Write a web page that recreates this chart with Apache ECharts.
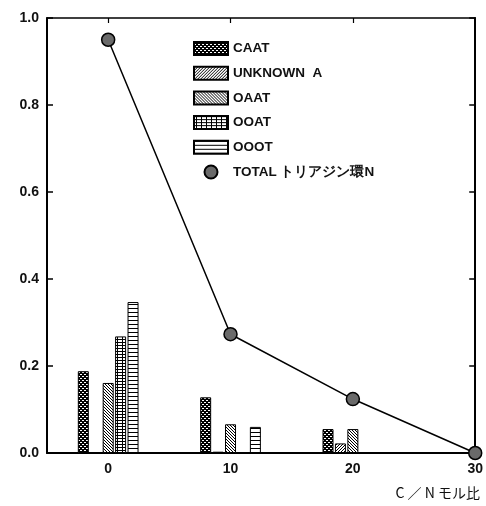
<!DOCTYPE html>
<html><head><meta charset="utf-8">
<script src="https://cdn.jsdelivr.net/npm/echarts@6/dist/echarts.min.js"></script>
<style>html,body{margin:0;padding:0;background:#fff}#c{width:486px;height:506px}</style>
</head><body><div id="c"></div>
<script>
// ---- data ----
const groups = [0, 10, 20];
const seriesNames = ['CAAT', 'UNKNOWN  A', 'OAAT', 'OOAT', 'OOOT'];
const caat = [0.188, 0.128, 0.055];
const unknownA = [null, 0.003, 0.022];
const oaat = [0.161, 0.066, 0.055];
const ooat = [0.268, null, null];
const ooot = [0.347, 0.060, null];
const totalName = 'TOTAL トリアジン環N';
const totalX = [0, 10, 20, 30];
const totalN = [0.95, 0.273, 0.124, 0.0];
const xTickValues = [0, 10, 20, 30];
const yTickValues = [0, 0.2, 0.4, 0.6, 0.8, 1.0];

// ---- patterns ----
function pat(w, h, isBlack) {
  const c = document.createElement('canvas');
  c.width = w; c.height = h;
  const g = c.getContext('2d');
  const img = g.createImageData(w, h);
  for (let y = 0; y < h; y++) for (let x = 0; x < w; x++) {
    const v = isBlack(x, y) ? 0 : 255;
    const i = (y * w + x) * 4;
    img.data[i] = img.data[i + 1] = img.data[i + 2] = v; img.data[i + 3] = 255;
  }
  g.putImageData(img, 0, 0);
  return { image: c, repeat: 'repeat' };
}
const patterns = [
  pat(4, 4, (x, y) => ((x + y) % 4 < 2) || ((x - y + 8) % 4 < 2)),
  pat(3, 3, (x, y) => (x + y) % 3 === 0),
  pat(3, 3, (x, y) => (x - y + 6) % 3 === 0),
  pat(5, 3, (x, y) => y === 0 || x === 2),
  pat(1, 4, (x, y) => y === 0)
];
const barValues = [caat, unknownA, oaat, ooat, ooot];

const chart = echarts.init(document.getElementById('c'), null, { renderer: 'canvas' });
const font = 'Liberation Sans, Arial, sans-serif';

const barSeries = barValues.map((vals, k) => ({
  name: seriesNames[k],
  type: 'bar',
  xAxisIndex: 0, yAxisIndex: 0,
  barWidth: 11,
  barGap: '13%',
  itemStyle: { color: patterns[k], borderColor: '#000', borderWidth: 1 },
  data: groups.map((g, i) => [g, vals[i] === null ? '-' : vals[i]]),
  z: 2
}));

chart.setOption({
  animation: false,
  backgroundColor: '#fff',
  grid: { left: 47, right: 5, top: 18, bottom: 53, containLabel: false },
  legend: {
    orient: 'vertical', left: 188, top: 36,
    itemWidth: 34, itemHeight: 13, itemGap: 9.7,
    textStyle: { fontFamily: font, fontSize: 13.5, fontWeight: 'bold', color: '#111' },
    data: seriesNames.map(n => ({ name: n, icon: 'rect' })).concat([{ name: totalName, icon: 'circle' }])
  },
  xAxis: [{
    type: 'value', min: -5, max: 30, interval: 5, position: 'bottom',
    axisLine: { show: true, onZero: false, lineStyle: { color: '#000', width: 2 } },
    axisTick: { show: false },
    splitLine: { show: false },
    axisLabel: {
      customValues: xTickValues,
      formatter: v => (xTickValues.indexOf(v) >= 0 ? String(v) : ''),
      margin: 9, fontFamily: font, fontSize: 14, fontWeight: 'bold', color: '#111'
    }
  }, {
    type: 'value', min: -5, max: 30, interval: 5, position: 'top',
    axisLine: { show: true, onZero: false, lineStyle: { color: '#000', width: 1.5 } },
    axisTick: { show: true, inside: true, length: 5, customValues: [0, 10, 20], lineStyle: { color: '#000', width: 1.2 } },
    axisLabel: { show: false },
    splitLine: { show: false }
  }],
  yAxis: [{
    type: 'value', min: 0, max: 1, interval: 0.2, position: 'left',
    axisLine: { show: true, onZero: false, lineStyle: { color: '#000', width: 2 } },
    axisTick: { show: true, inside: true, length: 6, lineStyle: { color: '#000', width: 1.5 } },
    splitLine: { show: false },
    axisLabel: {
      formatter: v => v.toFixed(1), margin: 8,
      fontFamily: font, fontSize: 14, fontWeight: 'bold', color: '#111'
    }
  }, {
    type: 'value', min: 0, max: 1, interval: 0.2, position: 'right',
    axisLine: { show: true, onZero: false, lineStyle: { color: '#000', width: 2 } },
    axisTick: { show: true, inside: true, length: 6, lineStyle: { color: '#000', width: 1.5 } },
    splitLine: { show: false },
    axisLabel: { show: false }
  }],
  graphic: [{
    type: 'text', right: 6, top: 486,
    style: { text: 'C ／ N モル比', font: '14px "Noto Sans CJK JP", sans-serif', fill: '#111' }
  }],
  series: barSeries.concat([{
    name: totalName,
    type: 'line',
    xAxisIndex: 0, yAxisIndex: 0,
    data: totalX.map((x, i) => [x, totalN[i]]),
    symbol: 'circle', symbolSize: 13,
    clip: false,
    lineStyle: { color: '#000', width: 1.5 },
    itemStyle: { color: '#6a6a6a', borderColor: '#000', borderWidth: 1.5 },
    z: 5
  }])
});
</script>
</body></html>
